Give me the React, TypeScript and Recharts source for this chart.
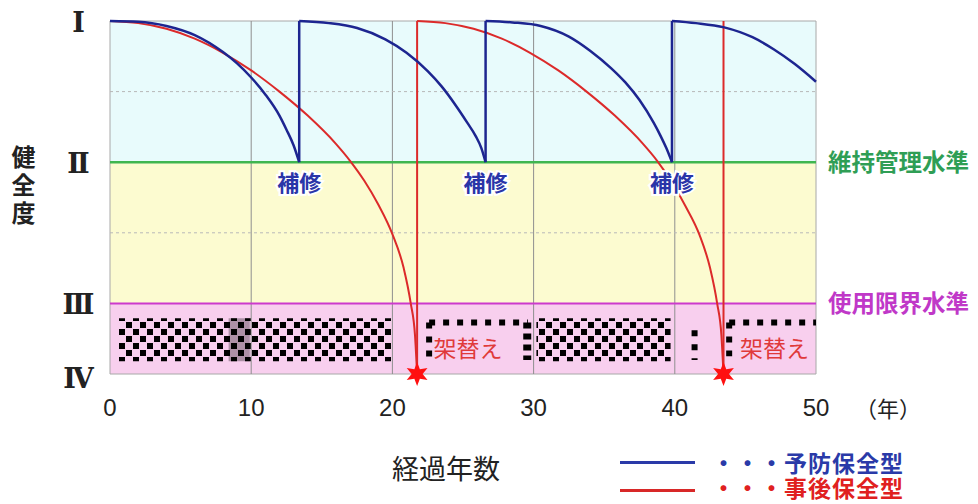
import React from 'react';
import { ComposedChart, Line, XAxis, YAxis, ReferenceArea, ReferenceLine, Scatter } from 'recharts';

// ---- data (years, health level: IV=0, III=1, II=3, I=5) ----
const yearTicks = [0, 10, 20, 30, 40, 50];
const gradeTicks = [0, 1, 3, 5];
const gradeLabels: Record<number, string> = { 5: 'I', 3: 'II', 1: 'III', 0: 'IV' };
const gridYears = [10, 20, 30, 40];
const midLevels = [4, 2];

// preventive maintenance (予防保全型)
const blueArc1: [number, number][] = [[0, 5], [2, 4.99], [4, 4.93], [6, 4.8], [8, 4.56], [9, 4.4], [10, 4.2], [11, 3.96], [12, 3.66], [12.5, 3.46], [13, 3.24], [13.4, 3.0]];
const blueArc2: [number, number][] = [[13.4, 5], [15.5, 4.97], [17.5, 4.9], [19.5, 4.74], [21, 4.55], [22.5, 4.29], [23.5, 4.07], [24.5, 3.8], [25.3, 3.56], [25.9, 3.37], [26.3, 3.2], [26.6, 3.0]];
const blueArc3: [number, number][] = [[26.6, 5], [28.5, 4.98], [30.5, 4.93], [32.5, 4.78], [34, 4.58], [35.5, 4.33], [36.5, 4.13], [37.5, 3.88], [38.5, 3.56], [39, 3.37], [39.4, 3.2], [39.8, 3.0]];
const blueArc4: [number, number][] = [[39.8, 5], [41.5, 4.97], [43.5, 4.91], [45.5, 4.77], [47, 4.6], [48.5, 4.39], [50, 4.14]];
const repairYears = [13.4, 26.6, 39.8];

// corrective maintenance (事後保全型)
const redArc1: [number, number][] = [[0, 5], [2, 4.97], [4, 4.89], [6, 4.75], [8, 4.55], [10, 4.3], [12, 4.0], [14, 3.66], [16, 3.26], [17, 3.02], [18, 2.74], [19, 2.4], [20, 1.98], [20.8, 1.5], [21.3, 1.0], [21.6, 0.55], [21.75, 0]];
const redArc2: [number, number][] = [[21.75, 5], [23.75, 4.97], [25.75, 4.89], [27.75, 4.75], [29.75, 4.55], [31.75, 4.3], [33.75, 4.0], [35.75, 3.66], [37.75, 3.26], [38.75, 3.02], [39.75, 2.73], [40.75, 2.38], [41.75, 1.97], [42.5, 1.5], [43.0, 1.0], [43.3, 0.55], [43.45, 0]];
const replaceYears = [21.75, 43.45];

const toPts = (a: [number, number][]) => a.map(([t, v]) => ({ t, v }));
const blueArcs = [blueArc1, blueArc2, blueArc3, blueArc4].map(toPts);
const redArcs = [redArc1, redArc2].map(toPts);
const blueJumps = repairYears.map((t) => [{ t, v: 3 }, { t, v: 5 }]);
const redJumps = replaceYears.map((t) => [{ t, v: 0 }, { t, v: 5 }]);
const repairPts = repairYears.map((t) => ({ t, v: 3 }));
const replacePts = replaceYears.map((t) => ({ t, v: 0 }));

const JP = '"Noto Sans CJK JP", "Noto Sans", sans-serif';
const BLUE = '#1d2590';
const RED = '#dc2a2a';

const XTick = (p: any) => (
  <text x={p.x} y={p.y + 25} textAnchor="middle" dominantBaseline="central"
    fontFamily='"Liberation Sans Narrow", "Liberation Sans", sans-serif' fontSize={24} fill="#222">
    {p.payload.value}
  </text>
);

const YTick = (p: any) => (
  <text x={p.x - 25} y={p.y + (p.payload.value === 0 ? 4 : 1)} textAnchor="middle" dominantBaseline="central"
    fontFamily='"DejaVu Serif", "Liberation Serif", serif' fontWeight="bold" fontSize={27} letterSpacing={-3} fill="#222">
    {gradeLabels[p.payload.value]}
  </text>
);

const RepairLabel = (p: any) => (
  <text x={p.cx} y={p.cy + 19} textAnchor="middle" dominantBaseline="central" fontFamily={JP}
    fontWeight="bold" fontSize={22} fill="#2a35a8" stroke="#ffffff" strokeWidth={4} paintOrder="stroke">
    補修
  </text>
);

const starPoints = (cx: number, cy: number, ro: number, ri: number, n: number) => {
  const pts: string[] = [];
  for (let i = 0; i < n * 2; i++) {
    const r = i % 2 === 0 ? ro : ri;
    const a = -Math.PI / 2 + (i * Math.PI) / n;
    pts.push(`${cx + r * Math.cos(a)},${cy + r * Math.sin(a)}`);
  }
  return pts.join(' ');
};

const ReplaceMark = (p: any) => (
  <g>
    <polygon points={starPoints(p.cx, p.cy, 12, 5.5, 6)} fill="#ff1010" />
    <text x={p.cx + 51} y={p.cy - 27} textAnchor="middle" dominantBaseline="central" fontFamily={JP}
      fontSize={23} fill="#e03a3a">
      架替え
    </text>
  </g>
);

export default function App() {
  return (
    <div style={{ position: 'absolute', left: 0, top: 0, width: 978, height: 504, background: '#fff' }}>
      <ComposedChart width={978} height={504} margin={{ top: 21, right: 162, bottom: 0, left: 0 }}>
        <defs>
          <pattern id="checker" x="0" y="0" width="14" height="14" patternUnits="userSpaceOnUse">
            <rect x="0" y="0" width="6" height="6" fill="#000" />
            <rect x="7" y="7" width="6" height="6" fill="#000" />
          </pattern>
        </defs>
        <XAxis dataKey="t" type="number" domain={[0, 50]} ticks={yearTicks}
          axisLine={false} tickLine={false} height={130} tick={<XTick />} interval={0} />
        <YAxis dataKey="v" type="number" domain={[0, 5]} ticks={gradeTicks}
          axisLine={false} tickLine={false} width={110} tick={<YTick />} interval={0} />

        <ReferenceArea x1={0} x2={50} y1={3} y2={5} fill="#e8fbfc" fillOpacity={1} stroke="none" />
        <ReferenceArea x1={0} x2={50} y1={1} y2={3} fill="#fcfbd0" fillOpacity={1} stroke="none" />
        <ReferenceArea x1={0} x2={50} y1={0} y2={1} fill="#f8cfee" fillOpacity={1} stroke="none" />
        <ReferenceArea x1={0} x2={50} y1={0} y2={5} fill="none" stroke="#a8a8a8" strokeWidth={1} />

        {gridYears.map((x) => (
          <ReferenceLine key={'g' + x} x={x} stroke="#8f8f8f" strokeWidth={1} />
        ))}
        {midLevels.map((y) => (
          <ReferenceLine key={'m' + y} y={y} stroke="#b8b8b8" strokeWidth={1} strokeDasharray="3 3" />
        ))}

        <ReferenceArea x1={0.6} x2={19.95} y1={0.18} y2={0.79} fill="url(#checker)" fillOpacity={1} stroke="none" />
        <ReferenceArea x1={8.4} x2={9.9} y1={0.18} y2={0.79} fill="#000" fillOpacity={0.3} stroke="none" />
        <ReferenceArea x1={30.2} x2={39.7} y1={0.18} y2={0.79} fill="url(#checker)" fillOpacity={1} stroke="none" />
        <ReferenceLine segment={[{ x: 22.6, y: 0.73 }, { x: 29.6, y: 0.73 }]} stroke="#000" strokeWidth={6} strokeDasharray="6 8" />
        <ReferenceLine segment={[{ x: 22.6, y: 0.73 }, { x: 22.6, y: 0.2 }]} stroke="#000" strokeWidth={6} strokeDasharray="6 8" />
        <ReferenceLine segment={[{ x: 29.55, y: 0.73 }, { x: 29.55, y: 0.2 }]} stroke="#000" strokeWidth={8} strokeDasharray="6 5" />
        <ReferenceLine segment={[{ x: 41.4, y: 0.62 }, { x: 41.4, y: 0.2 }]} stroke="#000" strokeWidth={6} strokeDasharray="6 8" />
        <ReferenceLine segment={[{ x: 43.85, y: 0.73 }, { x: 43.85, y: 0.25 }]} stroke="#000" strokeWidth={6} strokeDasharray="6 8" />
        <ReferenceLine segment={[{ x: 43.85, y: 0.73 }, { x: 50, y: 0.73 }]} stroke="#000" strokeWidth={6} strokeDasharray="6 8" />

        <ReferenceLine y={3} stroke="#3fb650" strokeWidth={2.5}
          label={{ value: '維持管理水準', position: 'right', offset: 12, fill: '#2f9e55', fontSize: 23.5, fontFamily: JP, fontWeight: 'bold' }} />
        <ReferenceLine y={1} stroke="#cc3acc" strokeWidth={2}
          label={{ value: '使用限界水準', position: 'right', offset: 12, fill: '#c038c8', fontSize: 23.5, fontFamily: JP, fontWeight: 'bold' }} />

        {redArcs.map((d, i) => (
          <Line key={'ra' + i} data={d} dataKey="v" type="monotone" stroke={RED} strokeWidth={2}
            dot={false} activeDot={false} isAnimationActive={false} />
        ))}
        {redJumps.map((d, i) => (
          <Line key={'rj' + i} data={d} dataKey="v" type="linear" stroke={RED} strokeWidth={2}
            dot={false} activeDot={false} isAnimationActive={false} />
        ))}
        {blueArcs.map((d, i) => (
          <Line key={'ba' + i} data={d} dataKey="v" type="monotone" stroke={BLUE} strokeWidth={2.5}
            dot={false} activeDot={false} isAnimationActive={false} />
        ))}
        {blueJumps.map((d, i) => (
          <Line key={'bj' + i} data={d} dataKey="v" type="linear" stroke={BLUE} strokeWidth={2.5}
            dot={false} activeDot={false} isAnimationActive={false} />
        ))}
        <Scatter data={repairPts} shape={<RepairLabel />} isAnimationActive={false} />
        <Scatter data={replacePts} shape={<ReplaceMark />} isAnimationActive={false} />
      </ComposedChart>

      <div style={{ position: 'absolute', left: 9, top: 145, width: 28, fontFamily: JP, fontWeight: 'bold', fontSize: 24, lineHeight: '28px', letterSpacing: 4, writingMode: 'vertical-rl', color: '#222' }}>
        健全度
      </div>
      <div style={{ position: 'absolute', left: 855, top: 393, fontFamily: JP, fontSize: 22, lineHeight: '28px', color: '#222' }}>
        （年）
      </div>
      <div style={{ position: 'absolute', left: 392, top: 452, fontFamily: JP, fontSize: 27, lineHeight: '32px', color: '#222' }}>
        経過年数
      </div>
      <div style={{ position: 'absolute', left: 620, top: 461, width: 75, height: 2.5, background: '#2a3aa8' }} />
      <div style={{ position: 'absolute', left: 620, top: 489, width: 75, height: 2.5, background: '#d82828' }} />
      <div style={{ position: 'absolute', left: 712, top: 449, fontFamily: JP, fontWeight: 'bold', fontSize: 23, letterSpacing: 1, lineHeight: '26px', color: '#2a3aa8', whiteSpace: 'nowrap' }}>
        ・・・予防保全型
      </div>
      <div style={{ position: 'absolute', left: 712, top: 474, fontFamily: JP, fontWeight: 'bold', fontSize: 23, letterSpacing: 1, lineHeight: '26px', color: '#e02020', whiteSpace: 'nowrap' }}>
        ・・・事後保全型
      </div>
    </div>
  );
}
